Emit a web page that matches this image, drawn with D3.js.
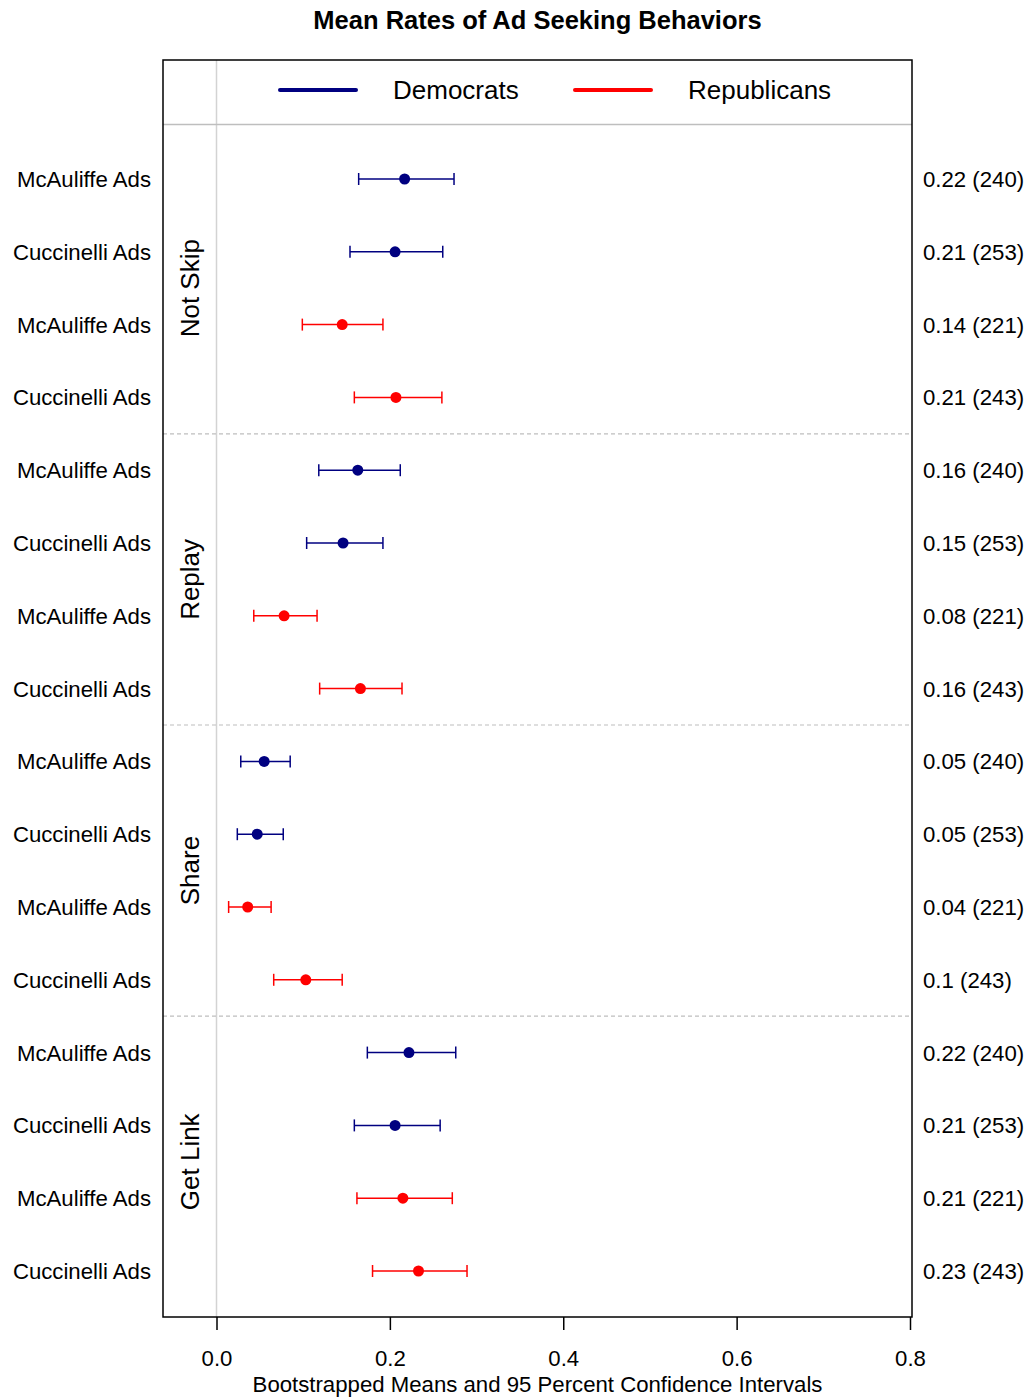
<!DOCTYPE html>
<html><head><meta charset="utf-8">
<script src="https://cdn.jsdelivr.net/npm/d3@7"></script>
<style>body{margin:0;background:#fff}svg{display:block;font-family:"Liberation Sans",Arial,sans-serif}</style>
</head><body>
<script>
const groups = ["Not Skip","Replay","Share","Get Link"];
const rowLabels = ["McAuliffe Ads","Cuccinelli Ads","McAuliffe Ads","Cuccinelli Ads"];
const parties = ["Democrats","Democrats","Republicans","Republicans"];
const means = [0.217,0.206,0.145,0.207, 0.163,0.146,0.078,0.166, 0.055,0.047,0.036,0.103, 0.222,0.206,0.215,0.233];
const lower = [0.164,0.154,0.099,0.159, 0.118,0.104,0.043,0.119, 0.028,0.024,0.014,0.066, 0.174,0.159,0.162,0.180];
const upper = [0.274,0.261,0.192,0.260, 0.212,0.192,0.116,0.214, 0.085,0.077,0.063,0.145, 0.276,0.258,0.272,0.289];
const rightLabels = ["0.22 (240)","0.21 (253)","0.14 (221)","0.21 (243)","0.16 (240)","0.15 (253)","0.08 (221)","0.16 (243)","0.05 (240)","0.05 (253)","0.04 (221)","0.1 (243)","0.22 (240)","0.21 (253)","0.21 (221)","0.23 (243)"];
const xTicks = [0,0.2,0.4,0.6,0.8];
const colors = {Democrats:"#000080", Republicans:"#ff0000"};

const W=1035,H=1398;
const box={l:163,r:912,t:60,b:1317};
const svg=d3.select("body").append("svg").attr("width",W).attr("height",H);
const x=d3.scaleLinear().domain([0,0.8]).range([216.5,910]);
const y=d3.scaleLinear().domain([0,15]).range([179,1271]);
const rows=means.map((m,i)=>({i,m,lo:lower[i],hi:upper[i],party:parties[i%4],label:rowLabels[i%4],right:rightLabels[i]}));

svg.append("text").attr("x",(box.l+box.r)/2).attr("y",29).attr("text-anchor","middle")
  .attr("font-weight","bold").attr("font-size",25.5).text("Mean Rates of Ad Seeking Behaviors");

// zero line
svg.append("line").attr("x1",x(0)).attr("x2",x(0)).attr("y1",box.t).attr("y2",box.b).attr("stroke","#d3d3d3").attr("stroke-width",1.5);
// legend separator
svg.append("line").attr("x1",box.l).attr("x2",box.r).attr("y1",124.5).attr("y2",124.5).attr("stroke","#bebebe").attr("stroke-width",1.5);
// group separators
[3.5,7.5,11.5].forEach(v=>svg.append("line").attr("x1",box.l).attr("x2",box.r).attr("y1",y(v)).attr("y2",y(v))
  .attr("stroke","#bebebe").attr("stroke-width",1.2).attr("stroke-dasharray","4,3"));

// legend
const leg=[{n:"Democrats",x1:280,x2:356,tx:393},{n:"Republicans",x1:575,x2:651,tx:688}];
leg.forEach(d=>{
  svg.append("line").attr("x1",d.x1).attr("x2",d.x2).attr("y1",90).attr("y2",90).attr("stroke",colors[d.n]).attr("stroke-width",4).attr("stroke-linecap","round");
  svg.append("text").attr("x",d.tx).attr("y",99).attr("font-size",26).text(d.n);
});

const g=svg.append("g");
const r=g.selectAll("g.row").data(rows).join("g");
r.append("line").attr("x1",d=>x(d.lo)).attr("x2",d=>x(d.hi)).attr("y1",d=>y(d.i)).attr("y2",d=>y(d.i)).attr("stroke",d=>colors[d.party]).attr("stroke-width",1.5);
r.append("line").attr("x1",d=>x(d.lo)).attr("x2",d=>x(d.lo)).attr("y1",d=>y(d.i)-6).attr("y2",d=>y(d.i)+6).attr("stroke",d=>colors[d.party]).attr("stroke-width",1.5);
r.append("line").attr("x1",d=>x(d.hi)).attr("x2",d=>x(d.hi)).attr("y1",d=>y(d.i)-6).attr("y2",d=>y(d.i)+6).attr("stroke",d=>colors[d.party]).attr("stroke-width",1.5);
r.append("circle").attr("cx",d=>x(d.m)).attr("cy",d=>y(d.i)).attr("r",5.5).attr("fill",d=>colors[d.party]);
r.append("text").attr("x",151).attr("y",d=>y(d.i)+8).attr("text-anchor","end").attr("font-size",22.2).text(d=>d.label);
r.append("text").attr("x",923).attr("y",d=>y(d.i)+8).attr("font-size",22.2).text(d=>d.right);

groups.forEach((gname,k)=>{
  const cy=y(k*4+1.5);
  svg.append("text").attr("transform",`translate(199,${cy}) rotate(-90)`).attr("text-anchor","middle").attr("font-size",26).text(gname);
});

// box
svg.append("rect").attr("x",box.l).attr("y",box.t).attr("width",box.r-box.l).attr("height",box.b-box.t).attr("fill","none").attr("stroke","#000").attr("stroke-width",1.5);

// axis
const ax=svg.append("g").attr("transform",`translate(0,${box.b})`)
  .call(d3.axisBottom(x).tickValues(xTicks).tickFormat(d3.format(".1f")).tickSize(13).tickSizeOuter(0));
ax.select(".domain").remove();
ax.selectAll(".tick line").attr("stroke-width",1.5);
ax.selectAll("text").attr("font-size",22.2).attr("font-family","Liberation Sans, Arial, sans-serif").attr("dy",0).attr("y",49);
svg.append("text").attr("x",(box.l+box.r)/2).attr("y",1392).attr("text-anchor","middle").attr("font-size",22.2).text("Bootstrapped Means and 95 Percent Confidence Intervals");
</script>
</body></html>
